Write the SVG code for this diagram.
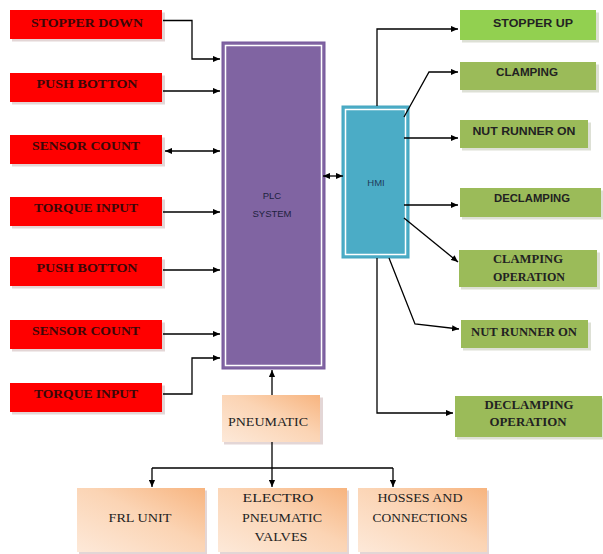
<svg xmlns="http://www.w3.org/2000/svg" width="603" height="554" viewBox="0 0 603 554">
<defs>
<marker id="ah" viewBox="0 0 8 8" refX="8" refY="4" markerWidth="7" markerHeight="7" markerUnits="userSpaceOnUse" orient="auto-start-reverse">
<path d="M0,0.5 L8,4 L0,7.5 z" fill="#000"/>
</marker>
<linearGradient id="peach" x1="0" y1="1" x2="1" y2="0">
<stop offset="0" stop-color="#fde9d9"/>
<stop offset="0.55" stop-color="#fbd4b4"/>
<stop offset="1" stop-color="#f7b47f"/>
</linearGradient>
</defs>
<style>
.red{fill:#ff0000}
.sh{fill:#e3d6d6}
.gsh{fill:#dde0d5}
.g1{fill:#92d050}
.g2{fill:#9bbb59}
.pe{fill:url(#peach)}
.rt{font-family:"Liberation Serif","Times New Roman",serif;font-weight:bold;font-size:12.5px;fill:#3a0808;text-anchor:middle}
.gt{font-family:"Liberation Sans",Arial,sans-serif;font-weight:bold;font-size:10.5px;fill:#222;text-anchor:middle}
.gs{font-family:"Liberation Serif","Times New Roman",serif;font-weight:bold;font-size:12px;fill:#222;text-anchor:middle}
.pt{font-family:"Liberation Serif","Times New Roman",serif;font-size:12px;fill:#222;text-anchor:middle}
.st{font-family:"Liberation Sans",Arial,sans-serif;font-size:9.5px;fill:#1e2240;text-anchor:middle}
.ln{fill:none;stroke:#000;stroke-width:1.3}
.ar{marker-end:url(#ah)}
.ar2{marker-start:url(#ah);marker-end:url(#ah)}
</style>
<rect width="603" height="554" fill="#fff"/>

<g id="stopper-down"><rect class="sh" x="12" y="12.5" width="153" height="29"/><rect class="red" x="10" y="10" width="152" height="29"/><text class="rt" x="87" y="26.5" textLength="112" lengthAdjust="spacingAndGlyphs">STOPPER DOWN</text></g>
<g id="push-botton-1"><rect class="sh" x="12" y="75.5" width="153" height="29"/><rect class="red" x="10" y="73" width="152" height="29"/><text class="rt" x="87" y="88" textLength="101" lengthAdjust="spacingAndGlyphs">PUSH BOTTON</text></g>
<g id="sensor-count-1"><rect class="sh" x="12" y="137.5" width="153" height="29"/><rect class="red" x="10" y="135" width="152" height="29"/><text class="rt" x="86" y="150" textLength="108" lengthAdjust="spacingAndGlyphs">SENSOR COUNT</text></g>
<g id="torque-input-1"><rect class="sh" x="12" y="199.5" width="153" height="29"/><rect class="red" x="10" y="197" width="152" height="29"/><text class="rt" x="86" y="212" textLength="104" lengthAdjust="spacingAndGlyphs">TORQUE INPUT</text></g>
<g id="push-botton-2"><rect class="sh" x="12" y="259.5" width="153" height="29"/><rect class="red" x="10" y="257" width="152" height="29"/><text class="rt" x="87" y="272" textLength="101" lengthAdjust="spacingAndGlyphs">PUSH BOTTON</text></g>
<g id="sensor-count-2"><rect class="sh" x="12" y="322.5" width="153" height="29"/><rect class="red" x="10" y="320" width="152" height="29"/><text class="rt" x="86" y="335" textLength="108" lengthAdjust="spacingAndGlyphs">SENSOR COUNT</text></g>
<g id="torque-input-2"><rect class="sh" x="12" y="385.5" width="153" height="29"/><rect class="red" x="10" y="383" width="152" height="29"/><text class="rt" x="86" y="398" textLength="104" lengthAdjust="spacingAndGlyphs">TORQUE INPUT</text></g>

<g id="plc-system"><rect x="222" y="42" width="103" height="327" fill="#8064a2" stroke="#77599c" stroke-width="1"/><rect x="225.5" y="45.5" width="96" height="320" fill="none" stroke="#fff" stroke-width="1.5"/><text class="st" x="272" y="199">PLC</text><text class="st" x="272" y="217">SYSTEM</text></g>

<g id="hmi"><rect x="342" y="106" width="67" height="152" fill="#4bacc6" stroke="#46a5bf" stroke-width="1"/><rect x="345.5" y="109.5" width="60" height="145" fill="none" stroke="#fff" stroke-width="1.5"/><text class="st" x="376" y="186" style="fill:#1f3b5a">HMI</text></g>

<g id="stopper-up"><rect class="gsh" x="462" y="12.5" width="137" height="30"/><rect class="g1" x="460" y="10" width="136" height="30"/><text class="gt" x="533" y="26.5" textLength="80" lengthAdjust="spacingAndGlyphs">STOPPER UP</text></g>
<g id="clamping"><rect class="gsh" x="462" y="64.5" width="137" height="28"/><rect class="g2" x="460" y="62" width="136" height="28"/><text class="gt" x="527" y="75.5" textLength="62" lengthAdjust="spacingAndGlyphs">CLAMPING</text></g>
<g id="nut-runner-on-1"><rect class="gsh" x="462" y="122.5" width="129" height="28"/><rect class="g2" x="460" y="120" width="128" height="28"/><text class="gt" x="524" y="135" textLength="103" lengthAdjust="spacingAndGlyphs">NUT RUNNER ON</text></g>
<g id="declamping"><rect class="gsh" x="462" y="190.5" width="141" height="29"/><rect class="g2" x="460" y="188" width="141" height="29"/><text class="gt" x="532" y="202" textLength="76" lengthAdjust="spacingAndGlyphs">DECLAMPING</text></g>
<g id="clamping-operation"><rect class="gsh" x="461" y="252.5" width="139" height="37"/><rect class="g2" x="459" y="250" width="138" height="37"/><text class="gs" x="528" y="263" textLength="70" lengthAdjust="spacingAndGlyphs">CLAMPING</text><text class="gs" x="529" y="281" textLength="72" lengthAdjust="spacingAndGlyphs">OPERATION</text></g>
<g id="nut-runner-on-2"><rect class="gsh" x="463" y="322.5" width="128" height="28"/><rect class="g2" x="461" y="320" width="127" height="28"/><text class="gs" x="524" y="336" textLength="106" lengthAdjust="spacingAndGlyphs">NUT RUNNER ON</text></g>
<g id="declamping-operation"><rect class="gsh" x="457" y="398.5" width="147" height="41"/><rect class="g2" x="455" y="396" width="147" height="41"/><text class="gs" x="529" y="409" textLength="89" lengthAdjust="spacingAndGlyphs">DECLAMPING</text><text class="gs" x="528" y="426" textLength="77" lengthAdjust="spacingAndGlyphs">OPERATION</text></g>

<g id="pneumatic"><rect class="sh" x="224" y="397.5" width="99" height="47"/><rect class="pe" x="222" y="395" width="98" height="47"/><text class="pt" x="268" y="426" textLength="80" lengthAdjust="spacingAndGlyphs">PNEUMATIC</text></g>
<g id="frl-unit"><rect class="sh" x="79" y="490.5" width="128" height="64"/><rect class="pe" x="77" y="488" width="128" height="64"/><text class="pt" x="140" y="522" textLength="63" lengthAdjust="spacingAndGlyphs">FRL UNIT</text></g>
<g id="electro-pneumatic-valves"><rect class="sh" x="220" y="490.5" width="129" height="64"/><rect class="pe" x="218" y="488" width="129" height="64"/><text class="pt" x="278" y="502" textLength="71" lengthAdjust="spacingAndGlyphs">ELECTRO</text><text class="pt" x="282" y="522" textLength="80" lengthAdjust="spacingAndGlyphs">PNEUMATIC</text><text class="pt" x="281" y="541" textLength="53" lengthAdjust="spacingAndGlyphs">VALVES</text></g>
<g id="hosses-and-connections"><rect class="sh" x="360" y="490.5" width="129" height="64"/><rect class="pe" x="358" y="488" width="129" height="64"/><text class="pt" x="420" y="502" textLength="85" lengthAdjust="spacingAndGlyphs">HOSSES AND</text><text class="pt" x="420" y="522" textLength="95" lengthAdjust="spacingAndGlyphs">CONNECTIONS</text></g>

<g id="connectors">
<path class="ln ar" d="M163,20.5 H192 V59 H220"/>
<path class="ln ar" d="M163,91 H220"/>
<path class="ln ar2" d="M165,151 H220"/>
<path class="ln ar" d="M163,212 H220"/>
<path class="ln ar" d="M163,270 H220"/>
<path class="ln ar" d="M163,334 H220"/>
<path class="ln ar" d="M163,394 H192 V358 H220"/>
<path class="ln ar2" d="M323,176 H343"/>
<path class="ln ar" d="M272,395 V370"/>
<path class="ln ar" d="M272,442 V487"/>
<path class="ln" d="M152,468 H393"/>
<path class="ln ar" d="M152,468 V487"/>
<path class="ln ar" d="M393,468 V487"/>
<path class="ln ar" d="M377,106 V29 H458"/>
<path class="ln ar" d="M404,117 L429,72 H458"/>
<path class="ln ar" d="M404,138 H458"/>
<path class="ln ar" d="M404,205 H458"/>
<path class="ln ar" d="M404,218 L458,262"/>
<path class="ln ar" d="M389,258 L415,324 L459,329"/>
<path class="ln ar" d="M377,258 V413 H453"/>
</g>
</svg>
